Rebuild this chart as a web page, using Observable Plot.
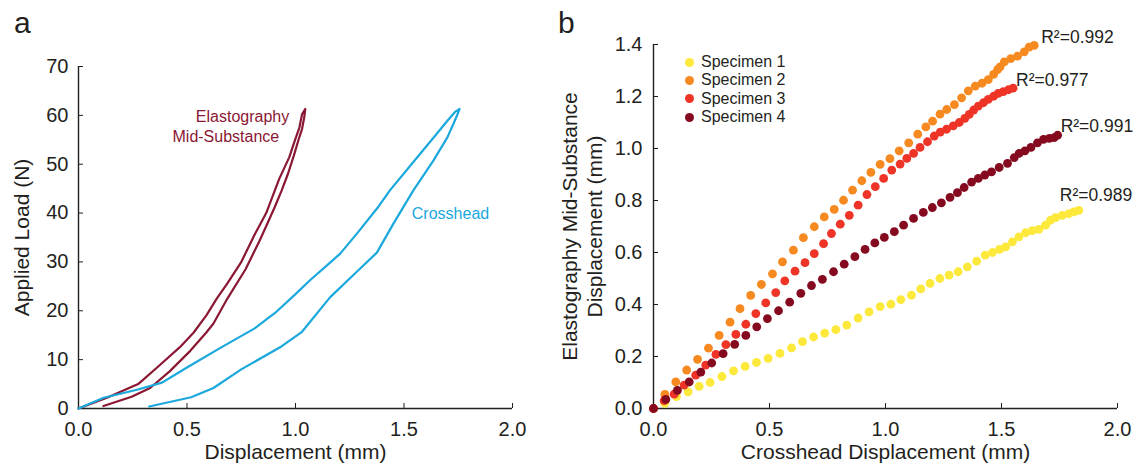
<!DOCTYPE html>
<html><head><meta charset="utf-8">
<script src="https://cdn.jsdelivr.net/npm/d3@7"></script>
<script src="https://cdn.jsdelivr.net/npm/@observablehq/plot@0.6"></script>
<style>
body{margin:0;background:#fff;}
#wrap{position:relative;width:1136px;height:470px;font-family:"Liberation Sans",Arial,Helvetica,sans-serif;color:#231f20;overflow:hidden;}
.panel{position:absolute;top:0;}
.plab{position:absolute;font-size:30px;line-height:30px;}
#legend{position:absolute;left:685px;top:53px;font-size:16px;}
.li{display:flex;align-items:center;height:18.3px;white-space:nowrap;}
.sw{width:9px;height:9px;border-radius:50%;margin-right:7px;flex:none;}
</style></head><body><div id="wrap"></div><script>
// ---------- Panel a data: [displacement (mm), load (N)] ----------
const elastoLoad = [[0,0],[0.131,2.2],[0.275,5.0],[0.37,8.7],[0.466,12.5],[0.53,15.5],[0.59,19.1],[0.637,22.5],[0.686,25.6],[0.749,29.9],[0.812,35.6],[0.865,40.0],[0.925,47.0],[0.971,51.4],[0.998,55.0],[1.018,57.5],[1.03,60.2],[1.045,61.3]];
const elastoUnload = [[1.045,61.3],[1.040,59.5],[1.030,57.2],[1.014,55.0],[0.992,51.7],[0.965,48.0],[0.935,44.5],[0.905,41.3],[0.87,37.8],[0.835,34.4],[0.77,28.5],[0.686,22.5],[0.622,17.4],[0.59,15.6],[0.515,11.8],[0.42,7.6],[0.33,4.2],[0.245,2.4],[0.115,0.5]];
const crossLoad = [[0,0],[0.116,2.2],[0.274,3.9],[0.385,5.3],[0.496,8.3],[0.654,12.4],[0.812,16.4],[0.907,19.6],[1.0,23.4],[1.068,26.3],[1.145,29.3],[1.206,31.7],[1.283,35.8],[1.382,41.3],[1.436,44.7],[1.544,50.5],[1.652,56.3],[1.70,58.9],[1.735,60.7],[1.756,61.3]];
const crossUnload = [[1.756,61.3],[1.74,59.5],[1.70,55.5],[1.636,50.8],[1.544,44.7],[1.452,37.9],[1.375,31.9],[1.28,27.9],[1.16,22.8],[1.03,15.7],[0.935,12.7],[0.75,8.0],[0.622,4.2],[0.519,2.3],[0.326,0.4]];
const xTicksA = [0, 0.5, 1, 1.5, 2];
const yTicksA = [0, 10, 20, 30, 40, 50, 60, 70];

// ---------- Panel b data: [crosshead disp, elastography disp] ----------
const spec1 = [[0,0],[0.049,0.020],[0.099,0.046],[0.149,0.064],[0.197,0.085],[0.244,0.100],[0.295,0.123],[0.345,0.145],[0.395,0.162],[0.444,0.177],[0.494,0.193],[0.545,0.212],[0.595,0.233],[0.642,0.257],[0.690,0.275],[0.738,0.290],[0.786,0.303],[0.833,0.321],[0.882,0.348],[0.929,0.372],[0.977,0.392],[1.023,0.401],[1.066,0.419],[1.112,0.436],[1.152,0.460],[1.192,0.481],[1.234,0.500],[1.274,0.513],[1.313,0.526],[1.353,0.545],[1.393,0.567],[1.430,0.590],[1.461,0.600],[1.492,0.612],[1.518,0.622],[1.547,0.641],[1.575,0.660],[1.604,0.676],[1.633,0.684],[1.661,0.689],[1.690,0.705],[1.711,0.724],[1.733,0.734],[1.762,0.743],[1.790,0.749],[1.812,0.756],[1.833,0.762]];
const spec2 = [[0,0],[0.049,0.054],[0.096,0.102],[0.143,0.148],[0.190,0.189],[0.237,0.232],[0.283,0.281],[0.330,0.332],[0.373,0.384],[0.419,0.435],[0.465,0.477],[0.513,0.518],[0.556,0.564],[0.603,0.609],[0.646,0.657],[0.693,0.699],[0.736,0.737],[0.779,0.766],[0.819,0.801],[0.858,0.840],[0.898,0.876],[0.937,0.908],[0.977,0.939],[1.019,0.961],[1.059,0.991],[1.100,1.022],[1.139,1.055],[1.174,1.083],[1.203,1.105],[1.235,1.132],[1.264,1.150],[1.297,1.169],[1.328,1.195],[1.357,1.222],[1.387,1.240],[1.416,1.251],[1.443,1.265],[1.466,1.285],[1.483,1.303],[1.494,1.314],[1.512,1.333],[1.540,1.346],[1.569,1.355],[1.598,1.372],[1.619,1.390],[1.641,1.397]];
const spec3 = [[0,0],[0.046,0.030],[0.089,0.055],[0.132,0.090],[0.182,0.128],[0.225,0.167],[0.269,0.208],[0.312,0.246],[0.355,0.285],[0.398,0.324],[0.441,0.365],[0.484,0.406],[0.527,0.446],[0.566,0.491],[0.610,0.528],[0.653,0.561],[0.693,0.596],[0.733,0.634],[0.767,0.673],[0.805,0.709],[0.844,0.743],[0.882,0.782],[0.920,0.823],[0.956,0.853],[0.992,0.885],[1.027,0.917],[1.063,0.940],[1.092,0.962],[1.121,0.981],[1.149,1.004],[1.181,1.026],[1.210,1.048],[1.236,1.063],[1.263,1.074],[1.292,1.087],[1.318,1.100],[1.342,1.116],[1.361,1.131],[1.380,1.148],[1.400,1.163],[1.422,1.176],[1.443,1.189],[1.466,1.201],[1.486,1.212],[1.508,1.219],[1.530,1.226],[1.550,1.232]];
const spec4 = [[0,0],[0.053,0.035],[0.103,0.070],[0.154,0.102],[0.204,0.140],[0.251,0.175],[0.300,0.211],[0.350,0.247],[0.398,0.281],[0.445,0.314],[0.491,0.346],[0.539,0.376],[0.587,0.409],[0.635,0.443],[0.681,0.473],[0.728,0.497],[0.776,0.526],[0.822,0.555],[0.868,0.584],[0.912,0.612],[0.954,0.637],[0.995,0.658],[1.038,0.680],[1.078,0.705],[1.121,0.731],[1.163,0.754],[1.202,0.773],[1.241,0.791],[1.278,0.812],[1.310,0.830],[1.339,0.850],[1.371,0.871],[1.400,0.885],[1.428,0.898],[1.457,0.910],[1.490,0.927],[1.526,0.943],[1.555,0.965],[1.576,0.981],[1.601,0.991],[1.627,1.004],[1.655,1.022],[1.681,1.035],[1.706,1.039],[1.727,1.042],[1.742,1.051]];
const specNames = ["Specimen 1", "Specimen 2", "Specimen 3", "Specimen 4"];
const r2Values = ["0.989", "0.992", "0.977", "0.991"];
const xTicksB = [0, 0.5, 1, 1.5, 2];
const yTicksB = [0, 0.2, 0.4, 0.6, 0.8, 1.0, 1.2, 1.4];

// ---------- styling ----------
const font = '"Liberation Sans", Arial, Helvetica, sans-serif';
const ink = "#231f20";
const elastoColor = "#8a1733";
const crossColor = "#1aa8dd";
const specColors = ["#fde93b", "#f6891f", "#ee3427", "#850a1f"];
const r2Offsets = [[-19, -15], [7, -8], [3, -8], [3, -9]];
const specs = [spec1, spec2, spec3, spec4];
const fx = d => d[0], fy = d => d[1];

const wrap = document.getElementById("wrap");

const plotA = Plot.plot({
  width: 545, height: 470,
  marginLeft: 78, marginRight: 33, marginTop: 66, marginBottom: 62,
  style: {fontFamily: font, fontSize: "20px", color: ink, background: "transparent", overflow: "visible"},
  x: {domain: [0, 2]},
  y: {domain: [0, 70]},
  marks: [
    Plot.axisX({ticks: xTicksA, tickFormat: d3.format(".1f"), tickSize: -5, tickPadding: 18, label: null, stroke: ink}),
    Plot.axisY({ticks: yTicksA, tickFormat: d3.format("d"), tickSize: -5, tickPadding: 15, label: null, stroke: ink}),
    Plot.ruleX([0], {stroke: ink, strokeWidth: 1.4}),
    Plot.ruleY([0], {stroke: ink, strokeWidth: 1.4}),
    Plot.line(elastoLoad.concat(elastoUnload), {x: fx, y: fy, stroke: elastoColor, strokeWidth: 2.2}),
    Plot.line(crossLoad.concat(crossUnload), {x: fx, y: fy, stroke: crossColor, strokeWidth: 2.2}),
    Plot.text(["Elastography"], {x: 0.971, y: 59.7, text: d => d, textAnchor: "end", fill: elastoColor, fontSize: 16}),
    Plot.text(["Mid-Substance"], {x: 0.925, y: 55.6, text: d => d, textAnchor: "end", fill: elastoColor, fontSize: 16}),
    Plot.text(["Crosshead"], {x: 1.536, y: 39.9, text: d => d, textAnchor: "start", fill: crossColor, fontSize: 16}),
    Plot.text(["Displacement (mm)"], {frameAnchor: "bottom", dy: 50, text: d => d, fontSize: 21, fill: ink}),
    Plot.text(["Applied Load (N)"], {frameAnchor: "left", dx: -56, rotate: -90, textAnchor: "middle", text: d => d, fontSize: 21, fill: ink})
  ]
});
plotA.classList.add("panel");
plotA.style.left = "0px";
wrap.appendChild(plotA);

const marksB = [
  Plot.axisX({ticks: xTicksB, tickFormat: d3.format(".1f"), tickSize: -5, tickPadding: 18, label: null, stroke: ink}),
  Plot.axisY({ticks: yTicksB, tickFormat: d3.format(".1f"), tickSize: -5, tickPadding: 16, label: null, stroke: ink}),
  Plot.ruleX([0], {stroke: ink, strokeWidth: 1.4}),
  Plot.ruleY([0], {stroke: ink, strokeWidth: 1.4})
];
specs.forEach((s, i) => {
  marksB.push(Plot.dot(s, {x: fx, y: fy, r: 4.4, fill: specColors[i], stroke: "none"}));
});
specs.forEach((s, i) => {
  marksB.push(Plot.text([s[s.length - 1]], {x: fx, y: fy, text: () => "R\u00B2=" + r2Values[i], textAnchor: "start", dx: r2Offsets[i][0], dy: r2Offsets[i][1], fontSize: 17.5, fill: ink}));
});
marksB.push(Plot.text(["Crosshead Displacement (mm)"], {frameAnchor: "bottom", dy: 50, text: d => d, fontSize: 21, fill: ink}));
marksB.push(Plot.text(["Elastography Mid-Substance\nDisplacement (mm)"], {frameAnchor: "left", dx: -72, rotate: -90, textAnchor: "middle", lineHeight: 1.19, text: d => d, fontSize: 21, fill: ink}));

const plotB = Plot.plot({
  width: 576, height: 470,
  marginLeft: 93, marginRight: 19, marginTop: 44, marginBottom: 62,
  style: {fontFamily: font, fontSize: "20px", color: ink, background: "transparent", overflow: "visible"},
  x: {domain: [0, 2]},
  y: {domain: [0, 1.4]},
  marks: marksB
});
plotB.classList.add("panel");
plotB.style.left = "560px";
wrap.appendChild(plotB);

// panel letters
[["a", 14], ["b", 558]].forEach(([t, l]) => {
  const d = document.createElement("div");
  d.className = "plab"; d.textContent = t;
  d.style.left = l + "px"; d.style.top = "8px";
  wrap.appendChild(d);
});

// legend
const lg = document.createElement("div");
lg.id = "legend";
specNames.forEach((n, i) => {
  const row = document.createElement("div"); row.className = "li";
  const sw = document.createElement("span"); sw.className = "sw"; sw.style.background = specColors[i];
  const tx = document.createElement("span"); tx.textContent = n;
  row.appendChild(sw); row.appendChild(tx); lg.appendChild(row);
});
wrap.appendChild(lg);
</script></body></html>
